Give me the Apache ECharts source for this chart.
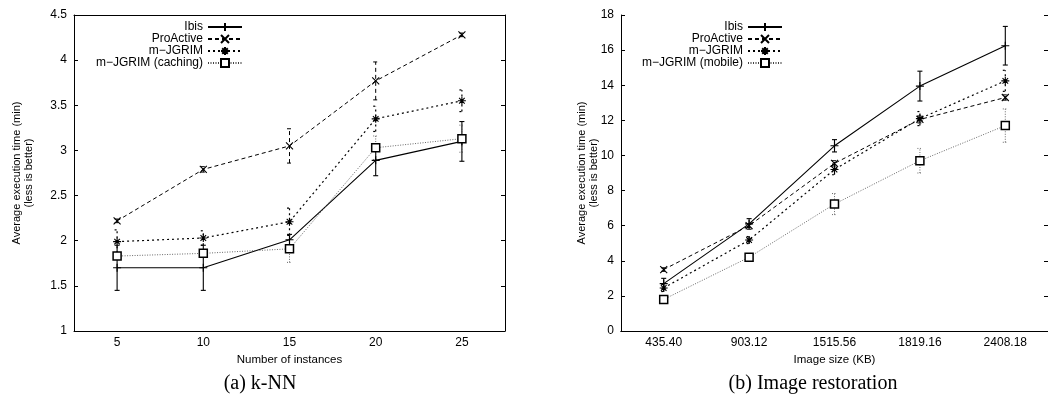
<!DOCTYPE html>
<html>
<head>
<meta charset="utf-8">
<script src="https://cdn.jsdelivr.net/npm/echarts@6/dist/echarts.min.js"></script>
<style>
    html, body { margin: 0; padding: 0; background: #fff; }
    #chart { width: 1048px; height: 399px; }
</style>
</head>
<body>
<div id="chart"></div>
<script>
// ---------- (a) k-NN ----------
var knnCats = ['5', '10', '15', '20', '25'];
var knnIbis = [1.70, 1.70, 2.01, 2.89, 3.10];
var knnIbisErr = [0.25, 0.25, 0.06, 0.17, 0.22];
var knnProActive = [2.22, 2.79, 3.05, 3.77, 4.28];
var knnProActiveErr = [0.02, 0.03, 0.19, 0.21, 0.02];
var knnJgrim = [1.99, 2.03, 2.21, 3.35, 3.55];
var knnJgrimErr = [0.13, 0.08, 0.15, 0.14, 0.12];
var knnCaching = [1.83, 1.86, 1.91, 3.03, 3.13];
var knnCachingErr = [0.03, 0.03, 0.15, 0.13, 0.15];

// ---------- (b) Image restoration ----------
var imgCats = ['435.40', '903.12', '1515.56', '1819.16', '2408.18'];
var imgIbis = [2.70, 6.10, 10.55, 13.95, 16.25];
var imgIbisErr = [0.30, 0.30, 0.35, 0.85, 1.10];
var imgProActive = [3.50, 6.00, 9.55, 12.05, 13.30];
var imgProActiveErr = [0.10, 0.10, 0.15, 0.20, 0.15];
var imgJgrim = [2.45, 5.18, 9.20, 12.10, 14.25];
var imgJgrimErr = [0.20, 0.20, 0.30, 0.40, 0.60];
var imgMobile = [1.80, 4.20, 7.23, 9.70, 11.70];
var imgMobileErr = [0.10, 0.20, 0.60, 0.70, 0.95];

var FONT = 'Liberation Sans';

// 符号
var SYM_PLUS = 'path://M0,5L10,5M5,0L5,10';
var SYM_CROSS = 'path://M0,0L10,10M10,0L0,10';
var SYM_STAR = 'path://M0,5L10,5M5,0L5,10M1.5,1.5L8.5,8.5M8.5,1.5L1.5,8.5';

// 线型
var styles = {
    ibis: { symbol: SYM_PLUS, dash: 'solid', width: 1.1, color: '#000', fill: '#000', size: 8 },
    pro: { symbol: SYM_CROSS, dash: [4, 3], width: 1, color: '#000', fill: '#000', size: 7 },
    jgrim: { symbol: SYM_STAR, dash: [2, 3], width: 1.2, color: '#000', fill: '#000', size: 8 },
    cache: { symbol: 'rect', dash: [1, 1.5], width: 0.8, color: '#444', fill: '#fff', size: 8 }
};

function lineSeries(name, data, st, gi) {
    return {
        name: name,
        type: 'line',
        xAxisIndex: gi * 2,
        yAxisIndex: gi * 2,
        data: data,
        symbol: st.symbol,
        symbolSize: st.size,
        symbolKeepAspect: true,
        showAllSymbol: true,
        lineStyle: { color: st.color, width: st.width, type: st.dash },
        itemStyle: { color: st.fill, borderColor: '#000', borderWidth: st.symbol === 'rect' ? 1.5 : 1.1 },
        z: 3
    };
}

// 误差线
function errSeries(name, vals, errs, st, gi) {
    var data = vals.map(function (v, i) { return [i, v - errs[i], v + errs[i]]; });
    return {
        name: name + ' err',
        type: 'custom',
        xAxisIndex: gi * 2,
        yAxisIndex: gi * 2,
        data: data,
        encode: { x: 0, y: [1, 2] },
        z: 2,
        renderItem: function (params, api) {
            var lo = api.coord([api.value(0), api.value(1)]);
            var hi = api.coord([api.value(0), api.value(2)]);
            var c = 2.5;
            var s = { stroke: st.color, lineWidth: st.width, lineDash: st.dash === 'solid' ? null : st.dash };
            return {
                type: 'group',
                children: [
                    { type: 'line', shape: { x1: lo[0], y1: lo[1], x2: hi[0], y2: hi[1] }, style: s },
                    { type: 'line', shape: { x1: lo[0] - c, y1: lo[1], x2: lo[0] + c, y2: lo[1] }, style: s },
                    { type: 'line', shape: { x1: hi[0] - c, y1: hi[1], x2: hi[0] + c, y2: hi[1] }, style: s }
                ]
            };
        }
    };
}

function xAxes(cats, gi, name) {
    var base = {
        type: 'category',
        gridIndex: gi,
        data: cats,
        boundaryGap: true,
        axisLine: { lineStyle: { color: '#000', width: 1 } },
        axisTick: { inside: true, alignWithLabel: true, length: 4, lineStyle: { color: '#000' } },
        splitLine: { show: false }
    };
    var bottom = Object.assign({}, base, {
        position: 'bottom',
        name: name,
        nameLocation: 'middle',
        nameGap: 23,
        nameTextStyle: { fontFamily: FONT, fontSize: 11.5, color: '#000' },
        axisLabel: { fontFamily: FONT, fontSize: 12, color: '#000', margin: 6, interval: 0 }
    });
    var top = Object.assign({}, base, { position: 'top', axisLabel: { show: false } });
    return [bottom, top];
}

function yAxes(gi, min, max, interval, nameGap) {
    var base = {
        type: 'value',
        gridIndex: gi,
        min: min,
        max: max,
        interval: interval,
        axisLine: { show: true, lineStyle: { color: '#000', width: 1 } },
        axisTick: { show: true, inside: true, length: 4, lineStyle: { color: '#000' } },
        splitLine: { show: false }
    };
    var left = Object.assign({}, base, {
        position: 'left',
        name: 'Average execution time (min)\n(less is better)',
        nameLocation: 'middle',
        nameGap: nameGap,
        nameMoveOverlap: false,
        nameTextStyle: { fontFamily: FONT, fontSize: 11, lineHeight: 12, color: '#000' },
        axisLabel: { fontFamily: FONT, fontSize: 12, color: '#000', margin: 7 }
    });
    var right = Object.assign({}, base, { position: 'right', axisLabel: { show: false } });
    return [left, right];
}

function legend(names, right) {
    return {
        data: names,
        orient: 'vertical',
        align: 'right',
        right: right,
        top: 16,
        itemGap: 0,
        itemWidth: 34,
        itemHeight: 10,
        textStyle: { fontFamily: FONT, fontSize: 12, lineHeight: 12, color: '#000' }
    };
}

var chart = echarts.init(document.getElementById('chart'), null, { renderer: 'canvas' });

var option = {
    animation: false,
    backgroundColor: '#fff',
    title: [
        { text: '(a) k-NN', left: 255, top: 369, textAlign: 'center',
          textStyle: { fontFamily: 'Liberation Serif', fontSize: 20, fontWeight: 'normal', color: '#000' } },
        { text: '(b) Image restoration', left: 808, top: 369, textAlign: 'center',
          textStyle: { fontFamily: 'Liberation Serif', fontSize: 20, fontWeight: 'normal', color: '#000' } }
    ],
    legend: [
        legend(['Ibis', 'ProActive', 'm\u2212JGRIM', 'm\u2212JGRIM (caching)'], 800),
        legend(['Ibis', 'ProActive', 'm\u2212JGRIM', 'm\u2212JGRIM (mobile)'], 260)
    ],
    grid: [
        { left: 74, top: 15, width: 431, height: 316 },
        { left: 621, top: 15, width: 438, height: 316 }
    ],
    xAxis: xAxes(knnCats, 0, 'Number of instances').concat(xAxes(imgCats, 1, 'Image size (KB)')),
    yAxis: yAxes(0, 1, 4.5, 0.5, 39).concat(yAxes(1, 0, 18, 2, 21)),
    series: [
        lineSeries('Ibis', knnIbis, styles.ibis, 0),
        lineSeries('ProActive', knnProActive, styles.pro, 0),
        lineSeries('m\u2212JGRIM', knnJgrim, styles.jgrim, 0),
        lineSeries('m\u2212JGRIM (caching)', knnCaching, styles.cache, 0),
        lineSeries('Ibis', imgIbis, styles.ibis, 1),
        lineSeries('ProActive', imgProActive, styles.pro, 1),
        lineSeries('m\u2212JGRIM', imgJgrim, styles.jgrim, 1),
        lineSeries('m\u2212JGRIM (mobile)', imgMobile, styles.cache, 1),
        errSeries('Ibis', knnIbis, knnIbisErr, styles.ibis, 0),
        errSeries('ProActive', knnProActive, knnProActiveErr, styles.pro, 0),
        errSeries('m-JGRIM', knnJgrim, knnJgrimErr, styles.jgrim, 0),
        errSeries('m-JGRIM (caching)', knnCaching, knnCachingErr, styles.cache, 0),
        errSeries('Ibis', imgIbis, imgIbisErr, styles.ibis, 1),
        errSeries('ProActive', imgProActive, imgProActiveErr, styles.pro, 1),
        errSeries('m-JGRIM', imgJgrim, imgJgrimErr, styles.jgrim, 1),
        errSeries('m-JGRIM (mobile)', imgMobile, imgMobileErr, styles.cache, 1)
    ]
};

chart.setOption(option);
</script>
</body>
</html>
